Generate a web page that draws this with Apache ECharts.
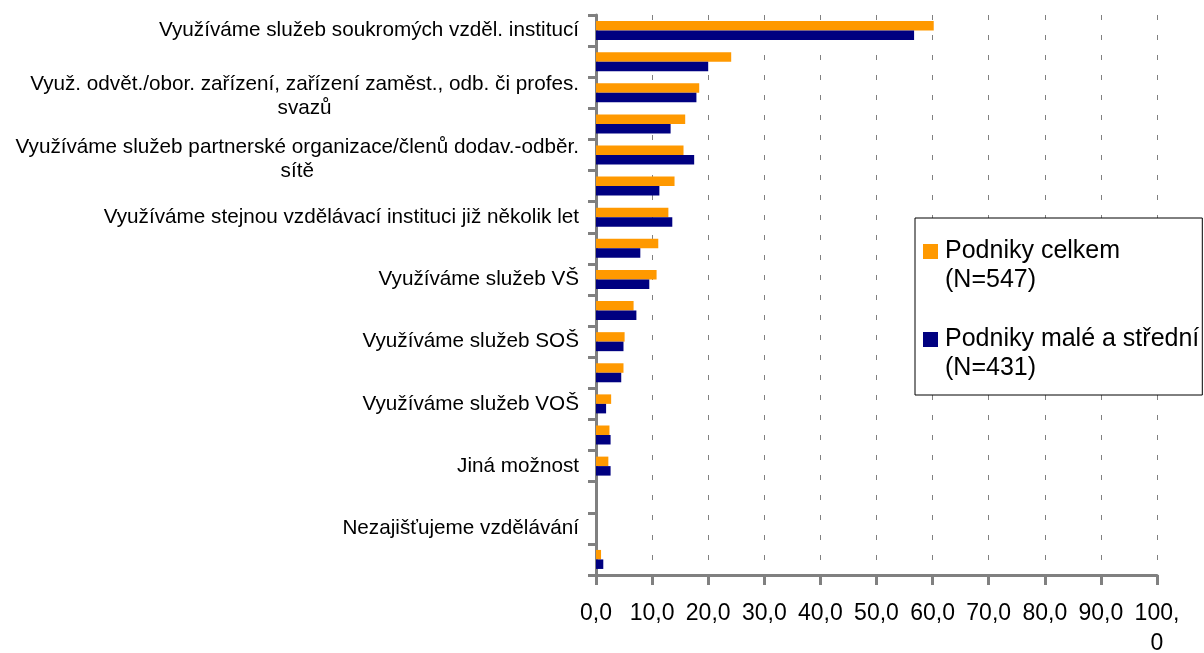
<!DOCTYPE html>
<html>
<head>
<meta charset="utf-8">
<title>Vzdělávání zaměstnanců</title>
<script src="https://cdn.jsdelivr.net/npm/echarts@6/dist/echarts.min.js"></script>
<style>
    html, body { margin: 0; padding: 0; background: #fff; }
    #graf { width: 1204px; height: 653px; }
</style>
</head>
<body>
<div id="graf"></div>
<script>
//kategorie (liche radky nemaji popisek)
var kategorie = [
    'Využíváme služeb soukromých vzděl. institucí', '',
    'Využ. odvět./obor. zařízení, zařízení zaměst., odb. či profes.\nsvazů', '',
    'Využíváme služeb partnerské organizace/členů dodav.-odběr.\nsítě', '',
    'Využíváme stejnou vzdělávací instituci již několik let', '',
    'Využíváme služeb VŠ', '',
    'Využíváme služeb SOŠ', '',
    'Využíváme služeb VOŠ', '',
    'Jiná možnost', '',
    'Nezajišťujeme vzdělávání', ''
]
//podniky celkem (N=547)
var celkem = [60.2, 24.1, 18.4, 15.9, 15.6, 14.0, 12.9, 11.1, 10.8, 6.7, 5.1, 4.9, 2.7, 2.4, 2.2, 0, 0, 0.9]
//podniky male a stredni (N=431)
var maleStredni = [56.7, 20.0, 17.9, 13.3, 17.5, 11.3, 13.6, 7.9, 9.5, 7.2, 4.9, 4.5, 1.8, 2.6, 2.6, 0, 0, 1.3]
var nazvySerii = ['Podniky celkem (N=547)', 'Podniky malé a střední (N=431)']
var barvy = ['#FF9900', '#000080']

var pismo = 'Liberation Sans, Arial, sans-serif'
var seda = '#808080'

var grafDom = document.getElementById('graf')
var graf = echarts.init(grafDom)

var option = {
    backgroundColor: '#fff',
    animation: false,
    grid: {
        left: 596, right: 47, top: 15, bottom: 78,
        outerBoundsMode: 'none'
    },
    legend: {
        orient: 'vertical',
        left: 915, top: 218,
        icon: 'none',
        itemWidth: 0, itemHeight: 14, itemGap: 30,
        padding: [19, 3, 12, 3],
        backgroundColor: '#fff', borderColor: '#000', borderWidth: 1, borderRadius: 0,
        data: nazvySerii,
        formatter: function (name) {
            var i = nazvySerii.indexOf(name)
            var casti = name.split(' (')
            return '{sq' + i + '|}{t1|' + casti[0] + '}\n{t2|(' + casti[1] + '}'
        },
        textStyle: {
            fontFamily: pismo, fontSize: 25, color: '#000', lineHeight: 29,
            rich: {
                sq0: { width: 15, height: 15, backgroundColor: barvy[0] },
                sq1: { width: 15, height: 15, backgroundColor: barvy[1] },
                t1: { fontFamily: pismo, fontSize: 25, color: '#000', lineHeight: 29, padding: [0, 0, 0, 7] },
                t2: { fontFamily: pismo, fontSize: 25, color: '#000', lineHeight: 29, padding: [0, 0, 0, 22] }
            }
        }
    },
    xAxis: {
        type: 'value',
        min: 0, max: 100, interval: 10,
        name: '%', nameLocation: 'middle', nameGap: 57,
        nameTextStyle: { fontFamily: pismo, fontSize: 23, color: '#000' },
        axisLine: { show: true, lineStyle: { color: seda, width: 3 } },
        axisTick: { show: true, length: 10, lineStyle: { color: seda, width: 3 } },
        axisLabel: {
            margin: 24, fontFamily: pismo, fontSize: 23, color: '#000', lineHeight: 30,
            formatter: function (v) {
                var s = v.toFixed(1).replace('.', ',')
                //sto se v originale zalamuje
                return v >= 100 ? s.replace(',', ',\n') : s
            }
        },
        splitLine: { show: true, lineStyle: { color: seda, width: 1, type: [5, 15] } }
    },
    yAxis: {
        type: 'category',
        inverse: true,
        data: kategorie,
        axisLine: { show: true, lineStyle: { color: seda, width: 3 } },
        axisTick: { show: true, interval: 0, length: 8, lineStyle: { color: seda, width: 3 } },
        axisLabel: {
            interval: 0, margin: 17,
            fontFamily: pismo, fontSize: 20.7, color: '#000', lineHeight: 24,
            formatter: function (v) {
                var radky = v.split('\n')
                if (radky.length < 2) return v
                return '{a|' + radky[0] + '}\n{c|' + radky.slice(1).join(' ') + '}'
            },
            rich: {
                a: { fontFamily: pismo, fontSize: 20.7, color: '#000', lineHeight: 32, padding: [8, 0, 0, 0] },
                c: { fontFamily: pismo, fontSize: 20.7, color: '#000', lineHeight: 24, align: 'center' }
            }
        }
    },
    series: [
        {
            name: nazvySerii[0], type: 'bar', data: celkem,
            barWidth: 9.5, barGap: '0%',
            itemStyle: { color: barvy[0] }
        },
        {
            name: nazvySerii[1], type: 'bar', data: maleStredni,
            barWidth: 9.5, barGap: '0%',
            itemStyle: { color: barvy[1] }
        }
    ]
}

graf.setOption(option)

window.onresize = function () {
    graf.resize()
}
</script>
</body>
</html>
